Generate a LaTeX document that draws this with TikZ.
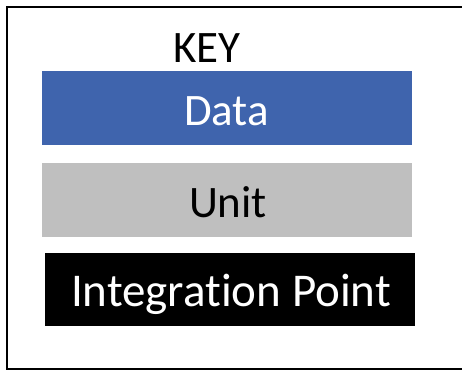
\documentclass[tikz,border=0pt]{standalone}
\usepackage{fontspec}
\setmainfont[Ligatures=NoCommon]{Carlito}
\definecolor{keyblue}{RGB}{63,100,173}
\definecolor{keygray}{RGB}{191,191,191}
\begin{document}
\begin{tikzpicture}[x=1pt,y=-1pt,
  swatch/.style={inner sep=0pt, outer sep=0pt, minimum width=370pt},
  label/.style={font=\fontsize{45}{54}\selectfont, anchor=base, inner sep=0pt}]
  \useasboundingbox (0,0) rectangle (462,376);
  % frame (open on the right)
  \draw[line width=2pt] (462,7) -- (7,7) -- (7,369) -- (462,369);
  % heading
  \node[label] (key) at (207,62) {KEY};
  % swatches
  \node[swatch, fill=keyblue, minimum height=74pt] (data) at (227,108) {};
  \node[swatch, fill=keygray, minimum height=74pt] (unit) at (227,200) {};
  \node[swatch, fill=black, minimum height=73pt] (ipoint) at (230,289.5) {};
  % swatch texts
  \node[label, text=white] (datatext) at (226.5,125) {Data};
  \node[label] (unittext) at (228,217) {Unit};
  \node[label, text=white, font=\fontsize{47}{56}\selectfont] (iptext) at (231,306.5) {Integration Point};
\end{tikzpicture}
\end{document}
